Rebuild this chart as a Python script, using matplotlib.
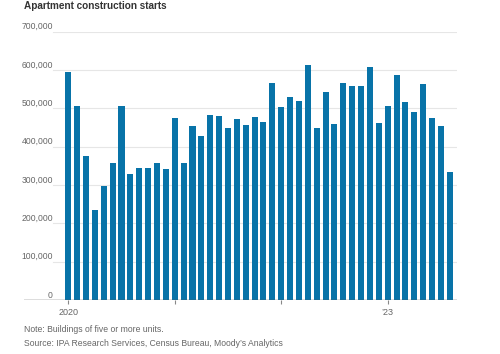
import numpy as np
import matplotlib.pyplot as plt

# 月次データ（2020年1月〜2023年8月）
months = np.arange(44)
starts = [595, 507, 375, 236, 297, 357, 507, 328, 344, 344, 357, 343,
          474, 358, 453, 428, 483, 479, 448, 472, 456, 477, 465, 566,
          504, 530, 519, 613, 449, 543, 459, 566, 559, 559, 608, 461,
          507, 588, 516, 491, 563, 475, 454, 335]
values = np.array(starts) * 1000

yticks = [0, 100000, 200000, 300000, 400000, 500000, 600000, 700000]
xtick_pos = [0, 12, 24, 36]
xtick_labels = ['2020', '', '', '\u201923']

plt.rcParams['font.family'] = ['Liberation Sans', 'DejaVu Sans']

W, H = 500, 354
fig = plt.figure(figsize=(W / 100, H / 100), dpi=100)
left, right = 24, 457
top, bottom = 31.7, 300
ax = fig.add_axes([left / W, 1 - bottom / H, (right - left) / W, (bottom - top) / H])

ax.bar(months, values, width=0.68, color='#0873a8', zorder=2)

ax.set_xlim(-4.99, 43.81)
ax.set_ylim(0, 700000)

# グリッド線とY軸ラベル（線の上に右揃え）
gx0 = (53 - left) / (right - left)
for v in yticks[1:]:
    ax.axhline(v, xmin=gx0, xmax=1, color='#e6e6e6', lw=0.8, zorder=1)
for v in yticks:
    ax.text(gx0, v + 13000, f'{v:,}', transform=ax.get_yaxis_transform(),
            ha='right', va='center', fontsize=6.2, color='#666666')

ax.axhline(0, color='#555555', lw=1, zorder=3)

for s in ax.spines.values():
    s.set_visible(False)
ax.set_yticks([])
ax.set_xticks(xtick_pos)
ax.set_xticklabels(xtick_labels, fontsize=6.5, color='#666666')
ax.tick_params(axis='x', length=3, width=0.8, color='#888888', pad=2.5)

fig.text(left / W, 1 - 6 / H, 'Apartment construction starts', ha='left', va='center',
         fontsize=7.2, fontweight='bold', color='#333333')
fig.text(left / W, 1 - 330 / H, 'Note: Buildings of five or more units.', ha='left',
         va='center', fontsize=6.25, color='#666666')
fig.text(left / W, 1 - 344 / H, 'Source: IPA Research Services, Census Bureau, Moody\u2019s Analytics',
         ha='left', va='center', fontsize=6.25, color='#666666')

fig.savefig('out.png', dpi=100)
